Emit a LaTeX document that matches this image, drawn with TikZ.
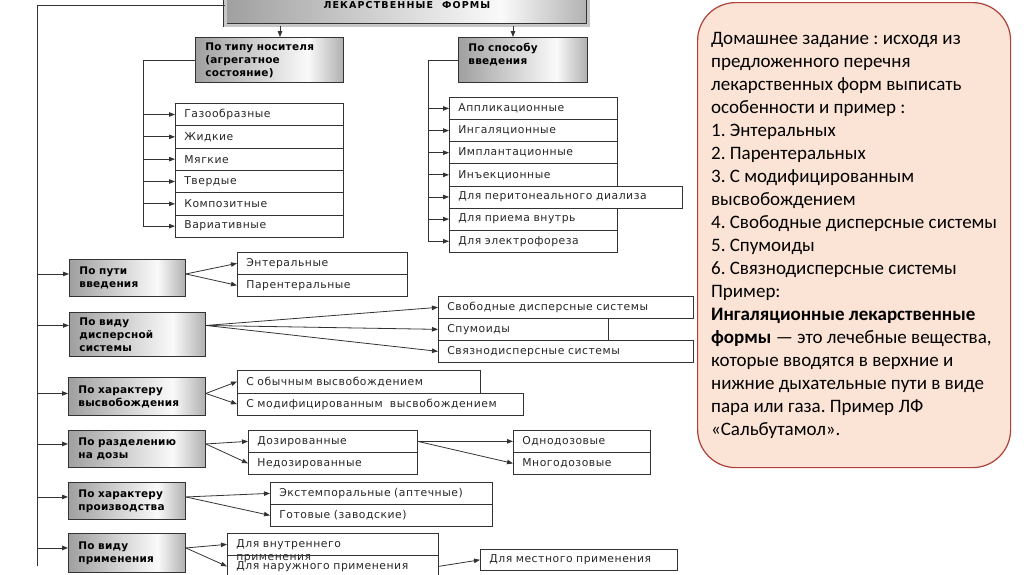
\documentclass[tikz,border=0pt]{standalone}
\usepackage{fontspec}
\setmainfont{DejaVu Sans}
\newfontfamily\boxfont[LetterSpace=5]{DejaVu Sans}
\newfontfamily\catfont[LetterSpace=2]{DejaVu Sans}
\newfontfamily\titlefont[LetterSpace=12]{DejaVu Sans}
\newfontfamily\notefont{Carlito}
\usetikzlibrary{arrows.meta, positioning, calc}
\definecolor{linegray}{HTML}{333333}
\definecolor{notefill}{HTML}{FBE4D5}
\definecolor{noteedge}{HTML}{B0403B}
\pgfdeclarehorizontalshading{catshade}{100bp}{color(0bp)=(gray!75); color(25bp)=(gray!75); color(63bp)=(gray!4); color(75bp)=(gray!62); color(100bp)=(gray!62)}

\tikzset{
    arr/.style={draw=linegray, line width=0.8pt, -{Triangle[length=6pt,width=4.5pt]}},
    bus/.style={draw=linegray, line width=0.8pt},
    catbox/.style={draw=linegray, line width=0.9pt, shade, shading=catshade, anchor=north west, inner xsep=10pt, align=left, font=\catfont\bfseries\fontsize{10.5}{13}\selectfont},
    rowbox/.style={draw=linegray, line width=0.7pt, anchor=north west, minimum height=22.3pt, inner xsep=9pt, inner ysep=0pt, text width=#1, align=left, text=black!85, font=\boxfont\fontsize{10.8}{12}\selectfont},
}

\begin{document}
\frenchspacing
\begin{tikzpicture}[x=1pt, y=-1pt]
    \useasboundingbox (0,0) rectangle (1024,574);

    % Title
    \node[catbox, double=gray!45, double distance=2.2pt, minimum width=363pt, minimum height=40pt, align=center, font=\titlefont\bfseries\fontsize{9.5}{11}\selectfont] (forms) at (225,-15) {ЛЕКАРСТВЕННЫЕ\ \ ФОРМЫ};

    % Categories
    \node[catbox, minimum width=148pt, minimum height=45pt, text width=128pt] (type) at (195,37) {По типу носителя\\(агрегатное\\состояние)};
    \node[catbox, minimum width=129pt, minimum height=45pt, text width=109pt] (meth) at (458,37) {По способу\\введения\\\phantom{в}};
    \node[catbox, minimum width=116pt, minimum height=37pt, text width=96pt] (route) at (69,259) {По пути\\введения};
    \node[catbox, minimum width=136pt, minimum height=44pt, text width=116pt] (disp) at (69,312) {По виду\\дисперсной\\системы};
    \node[catbox, minimum width=137pt, minimum height=38pt, text width=117pt] (rel) at (68,377) {По характеру\\высвобождения};
    \node[catbox, minimum width=137pt, minimum height=37pt, text width=117pt] (dose) at (68,430) {По разделению\\на дозы};
    \node[catbox, minimum width=117pt, minimum height=37pt, text width=97pt] (prod) at (68,482) {По характеру\\производства};
    \node[catbox, minimum width=117pt, minimum height=39pt, text width=97pt] (appl) at (68,533) {По виду\\применения};

    % Carrier types and ways of administration
    \foreach \t [count=\i] in {Газообразные, Жидкие, Мягкие, Твердые, Композитные, Вариативные}
        \node[rowbox=150pt] (type\i) at (175, 103+22.33*\i-22.33) {\t};
    \foreach \t/\w [count=\i] in {Аппликационные/150, Ингаляционные/150, Имплантационные/150, Инъекционные/150, Для перитонеального диализа/215, Для приема внутрь/150, Для электрофореза/150}
        \node[rowbox=\w pt, minimum height=22.14pt] (meth\i) at (449, 97+22.14*\i-22.14) {\t};

    % Sub-boxes
    \node[rowbox=152pt, minimum height=22pt] (ent) at (237,252) {Энтеральные};
    \node[rowbox=152pt, minimum height=22pt] (par) at (237,274) {Парентеральные};
    \node[rowbox=237pt, minimum height=22pt] (free) at (438,296) {Свободные дисперсные системы};
    \node[rowbox=152pt, minimum height=22pt] (foam) at (438,318) {Спумоиды};
    \node[rowbox=237pt, minimum height=22pt] (bound) at (438,340) {Связнодисперсные системы};
    \node[rowbox=225pt, minimum height=22.5pt] (usual) at (237,370) {С обычным высвобождением};
    \node[rowbox=268pt, minimum height=22.5pt] (modif) at (237,392.5) {С модифицированным\ \ высвобождением};
    \node[rowbox=151pt, minimum height=22pt] (dosed) at (248,430) {Дозированные};
    \node[rowbox=151pt, minimum height=22pt] (undosed) at (248,452) {Недозированные};
    \node[rowbox=119pt, minimum height=22pt] (single) at (513,430) {Однодозовые};
    \node[rowbox=119pt, minimum height=22pt] (multi) at (513,452) {Многодозовые};
    \node[rowbox=204pt, minimum height=22pt] (extemp) at (270,482) {Экстемпоральные (аптечные)};
    \node[rowbox=204pt, minimum height=22pt] (ready) at (270,504) {Готовые (заводские)};
    \node[rowbox=193pt, minimum height=22pt] (internal) at (227,533) {\smash{\rlap{\raisebox{-13pt}{применения}}}Для внутреннего};
    \node[rowbox=193pt, minimum height=22pt] (external) at (227,555) {Для наружного применения};
    \node[rowbox=179pt, minimum height=21pt] (local) at (480,549) {Для местного применения};

    % Main spine
    \coordinate (spinebot) at (37,566);
    \draw[bus] (forms.west) -| (spinebot);
    \foreach \c/\s in {route/4, disp/9, rel/3, dose/5, prod/4, appl/5} {
        \coordinate (\c-in) at ($(\c.west)+(0,-\s)$);
        \coordinate (\c-out) at ($(\c.east)+(0,-\s)$);
        \draw[arr] (spinebot |- \c-in) -- (\c-in);
    }

    % Drops from the title
    \coordinate (typedrop) at (280,0);
    \coordinate (methdrop) at (513,0);
    \draw[arr] (forms.south -| typedrop) -- (type.north -| typedrop);
    \draw[arr] (forms.south -| methdrop) -- (meth.north -| methdrop);

    % Buses of the two upper lists
    \coordinate (typebus) at (143,0);
    \coordinate (methbus) at (428,0);
    \draw[bus] (type.west) -| (typebus |- type6.west);
    \draw[bus] (meth.west) -| (methbus |- meth7.west);
    \foreach \i in {1,...,6}
        \draw[arr] (typebus |- type\i.west) -- (type\i.west);
    \foreach \i in {1,...,7}
        \draw[arr] (methbus |- meth\i.west) -- (meth\i.west);

    % Fans
    \draw[arr] (route-out) -- (ent.west);
    \draw[arr] (route-out) -- (par.west);
    \draw[arr] (disp-out) -- (free.west);
    \draw[arr] (disp-out) -- (foam.west);
    \draw[arr] (disp-out) -- (bound.west);
    \draw[arr] (rel-out) -- (usual.west);
    \draw[arr] (rel-out) -- (modif.west);
    \draw[arr] (dose-out) -- (dosed.west);
    \draw[arr] (dose-out) -- (undosed.west);
    \draw[arr] (dosed.east) -- (single.west);
    \draw[arr] (dosed.east) -- (multi.west);
    \draw[arr] (prod-out) -- (extemp.west);
    \draw[arr] (prod-out) -- (ready.west);
    \draw[arr] (appl-out) -- (internal.west);
    \draw[arr] (appl-out) -- (external.west);
    \draw[arr] (external.east) -- (local.west);

    % Homework note
    \node[draw=noteedge, line width=1.2pt, fill=notefill, rounded corners=38pt, anchor=north west, minimum width=313pt, minimum height=465pt, align=left, font=\notefont\fontsize{19}{23}\selectfont] (task) at (697,2) {Домашнее задание : исходя из\\предложенного перечня\\лекарственных форм выписать\\особенности и пример :\\1. Энтеральных\\2. Парентеральных\\3. С модифицированным\\высвобождением\\4. Свободные дисперсные системы\\5. Спумоиды\\6. Связнодисперсные системы\\Пример:\\\textbf{Ингаляционные лекарственные}\\\textbf{формы} — это лечебные вещества,\\которые вводятся в верхние и\\нижние дыхательные пути в виде\\пара или газа. Пример ЛФ\\«Сальбутамол».};
\end{tikzpicture}
\end{document}
